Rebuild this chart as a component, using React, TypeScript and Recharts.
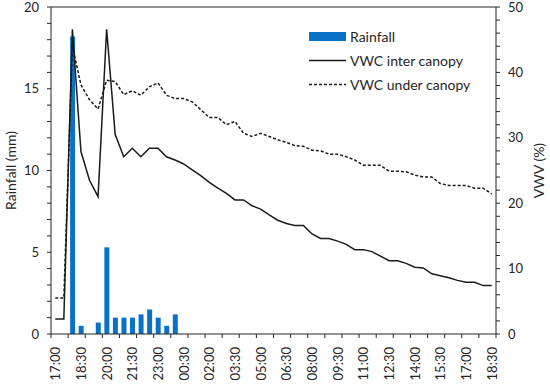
import React from "react";
import {
  ComposedChart,
  Bar,
  Line,
  XAxis,
  YAxis,
  Legend,
  ReferenceLine,
} from "recharts";

// half-hour slots, 17:00 day 1 → 18:30 day 2
const times = [
  "17:00", "17:30", "18:00", "18:30", "19:00", "19:30", "20:00", "20:30",
  "21:00", "21:30", "22:00", "22:30", "23:00", "23:30", "00:00", "00:30",
  "01:00", "01:30", "02:00", "02:30", "03:00", "03:30", "04:00", "04:30",
  "05:00", "05:30", "06:00", "06:30", "07:00", "07:30", "08:00", "08:30",
  "09:00", "09:30", "10:00", "10:30", "11:00", "11:30", "12:00", "12:30",
  "13:00", "13:30", "14:00", "14:30", "15:00", "15:30", "16:00", "16:30",
  "17:00", "17:30", "18:00", "18:30",
];

const rainfall = [
  null, null, 18.2, 0.5, null, 0.7, 5.3, 1.0, 1.0, 1.0, 1.2, 1.5, 1.0, 0.5, 1.2, null,
  null, null, null, null, null, null, null, null, null, null, null, null, null, null,
  null, null, null, null, null, null, null, null, null, null, null, null, null, null,
  null, null, null, null, null, null, null, null,
];

const vwcInter = [
  2.3, 2.3, 46.6, 27.9, 23.5, 21.0, 46.6, 30.5, 27.1, 28.4, 27.1, 28.4, 28.4, 27.1,
  26.6, 26.0, 25.1, 24.2, 23.2, 22.3, 21.5, 20.5, 20.5, 19.6, 19.1, 18.2, 17.4, 16.9,
  16.6, 16.6, 15.3, 14.6, 14.6, 14.2, 13.7, 12.9, 12.9, 12.6, 11.9, 11.2, 11.2, 10.8,
  10.2, 10.1, 9.2, 8.9, 8.6, 8.2, 7.9, 7.9, 7.4, 7.4,
];

const vwcUnder = [
  5.5, 5.5, 44.0, 38.1, 35.8, 34.4, 38.8, 38.6, 36.6, 37.2, 36.5, 37.8, 38.4, 36.5,
  36.0, 36.0, 35.5, 34.3, 33.1, 33.1, 32.0, 32.5, 30.7, 30.2, 30.7, 30.2, 29.7, 29.3,
  28.8, 28.7, 28.1, 28.0, 27.5, 27.5, 27.1, 26.6, 25.8, 25.8, 25.8, 24.9, 24.9, 24.8,
  24.3, 24.0, 24.0, 23.0, 22.7, 22.7, 22.7, 22.3, 22.3, 21.4,
];

const rainTicks = [0, 1, 2, 3, 4, 5, 6, 7, 8, 9, 10, 11, 12, 13, 14, 15, 16, 17, 18, 19, 20];
const vwcTicks = [0, 2, 4, 6, 8, 10, 12, 14, 16, 18, 20, 22, 24, 26, 28, 30, 32, 34, 36, 38, 40, 42, 44, 46, 48, 50];
// tick marks every hour (slot boundaries), labels every 1.5 h (slot centres)
const hourMarks = [0, 2, 4, 6, 8, 10, 12, 14, 16, 18, 20, 22, 24, 26, 28, 30, 32, 34, 36, 38, 40, 42, 44, 46, 48, 50, 52];
const labelSlots = [0, 3, 6, 9, 12, 15, 18, 21, 24, 27, 30, 33, 36, 39, 42, 45, 48, 51];

const FONT = "Lato, 'Open Sans', sans-serif";
const AXIS = "#262626";
const BLUE = "#0a72c6";
const TICK_SIZE = 4;
const TICK_MARGIN = 9;

const data = times.map((t, i) => ({
  slot: i + 0.5,
  time: t,
  rainfall: rainfall[i],
  inter: vwcInter[i],
  under: vwcUnder[i],
}));

const xTicks = [...hourMarks, ...labelSlots.map((i) => i + 0.5)].sort((a, b) => a - b);

function TimeTick(props: any) {
  const { x, y, payload } = props;
  const v = payload.value as number;
  if (Number.isInteger(v)) {
    const top = y - TICK_SIZE - TICK_MARGIN;
    return <line x1={x} x2={x} y1={top} y2={top + TICK_SIZE} stroke={AXIS} strokeWidth={1} />;
  }
  return (
    <text
      x={x}
      y={y}
      transform={`rotate(-90 ${x} ${y})`}
      textAnchor="end"
      dominantBaseline="central"
      fontSize={13}
      fontFamily={FONT}
      fill={AXIS}
    >
      {times[v - 0.5]}
    </text>
  );
}

const legendIcons: Record<string, (c: string) => React.ReactNode> = {
  rainfall: (c) => <rect x={0} y={0} width={37} height={9} fill={c} />,
  inter: (c) => <line x1={0} x2={37} y1={4.5} y2={4.5} stroke={c} strokeWidth={1.5} />,
  under: (c) => <line x1={0} x2={37} y1={4.5} y2={4.5} stroke={c} strokeWidth={1.5} strokeDasharray="3 2" />,
};

function renderLegend(props: any) {
  const { payload } = props;
  return (
    <div style={{ fontFamily: FONT, fontSize: 14, color: AXIS }}>
      {payload.map((entry: any) => (
        <div key={entry.dataKey} style={{ display: "flex", alignItems: "center", height: 24 }}>
          <svg width={37} height={9} style={{ marginRight: 4 }}>
            {legendIcons[entry.dataKey](entry.color)}
          </svg>
          <span>{entry.value}</span>
        </div>
      ))}
    </div>
  );
}

export default function App() {
  const tickStyle = { fontSize: 13, fontFamily: FONT, fill: AXIS };
  return (
    <div>
      <style>{`body{margin:0}`}</style>
      <ComposedChart
        width={550}
        height={387}
        data={data}
        margin={{ top: 7, right: 0, bottom: 0, left: 0 }}
      >
        <XAxis
          dataKey="slot"
          type="number"
          domain={[0, 52]}
          ticks={xTicks}
          interval={0}
          height={53}
          tickLine={false}
          tickSize={TICK_SIZE}
          tickMargin={TICK_MARGIN}
          tick={<TimeTick />}
          stroke={AXIS}
        />
        <YAxis
          yAxisId="left"
          domain={[0, 20]}
          ticks={rainTicks}
          interval={0}
          width={51}
          tickSize={TICK_SIZE}
          tickMargin={8}
          tick={tickStyle}
          tickFormatter={(v) => (v % 5 === 0 ? String(v) : "")}
          stroke={AXIS}
          label={{
            value: "Rainfall (mm)",
            angle: -90,
            position: "insideLeft",
            offset: 11,
            style: { textAnchor: "middle", fontSize: 14, fontFamily: FONT, fill: AXIS },
          }}
        />
        <YAxis
          yAxisId="right"
          orientation="right"
          domain={[0, 50]}
          ticks={vwcTicks}
          interval={0}
          width={54}
          tickSize={TICK_SIZE}
          tickMargin={8}
          tick={tickStyle}
          tickFormatter={(v) => (v % 10 === 0 ? String(v) : "")}
          stroke={AXIS}
          label={{
            value: "VWV (%)",
            angle: -90,
            position: "insideRight",
            offset: 11,
            style: { textAnchor: "middle", fontSize: 14, fontFamily: FONT, fill: AXIS },
          }}
        />
        <ReferenceLine yAxisId="left" y={20} stroke={AXIS} ifOverflow="extendDomain" />
        <Bar
          yAxisId="left"
          dataKey="rainfall"
          name="Rainfall"
          fill={BLUE}
          barSize={5}
          isAnimationActive={false}
        />
        <Line
          yAxisId="right"
          dataKey="inter"
          name="VWC inter canopy"
          type="linear"
          stroke="#1a1a1a"
          strokeWidth={1.5}
          dot={false}
          isAnimationActive={false}
        />
        <Line
          yAxisId="right"
          dataKey="under"
          name="VWC under canopy"
          type="linear"
          stroke="#1a1a1a"
          strokeWidth={1.5}
          strokeDasharray="3 2"
          dot={false}
          isAnimationActive={false}
        />
        <Legend
          layout="vertical"
          align="center"
          verticalAlign="middle"
          content={renderLegend}
          wrapperStyle={{ top: 24, left: 309, width: 200 }}
        />
      </ComposedChart>
    </div>
  );
}
